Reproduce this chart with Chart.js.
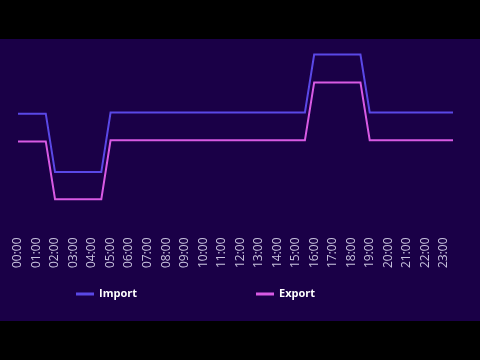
<!DOCTYPE html>
<html>
<head>
<meta charset="utf-8">
<script src="https://cdn.jsdelivr.net/npm/chart.js@4.4.1/dist/chart.umd.min.js"></script>
<style>
  html, body { margin: 0; padding: 0; background: #000; width: 480px; height: 360px; overflow: hidden; }
  #wrap { position: absolute; left: 0; top: 39px; width: 480px; height: 282px; background: #1a0047; }
  canvas { display: block; }
</style>
</head>
<body>
<div id="wrap"><canvas id="c" width="480" height="282"></canvas></div>
<script>
const timeLabels = [
  "00:00","00:30","01:00","01:30","02:00","02:30","03:00","03:30",
  "04:00","04:30","05:00","05:30","06:00","06:30","07:00","07:30",
  "08:00","08:30","09:00","09:30","10:00","10:30","11:00","11:30",
  "12:00","12:30","13:00","13:30","14:00","14:30","15:00","15:30",
  "16:00","16:30","17:00","17:30","18:00","18:30","19:00","19:30",
  "20:00","20:30","21:00","21:30","22:00","22:30","23:00","23:30"
];
const importValues = [
  20.7, 20.7, 20.7, 20.7, 10.6, 10.6, 10.6, 10.6,
  10.6, 10.6, 20.9, 20.9, 20.9, 20.9, 20.9, 20.9,
  20.9, 20.9, 20.9, 20.9, 20.9, 20.9, 20.9, 20.9,
  20.9, 20.9, 20.9, 20.9, 20.9, 20.9, 20.9, 20.9,
  30.9, 30.9, 30.9, 30.9, 30.9, 30.9, 20.9, 20.9,
  20.9, 20.9, 20.9, 20.9, 20.9, 20.9, 20.9, 20.9
];
const exportValues = [
  15.9, 15.9, 15.9, 15.9, 5.9, 5.9, 5.9, 5.9,
  5.9, 5.9, 16.1, 16.1, 16.1, 16.1, 16.1, 16.1,
  16.1, 16.1, 16.1, 16.1, 16.1, 16.1, 16.1, 16.1,
  16.1, 16.1, 16.1, 16.1, 16.1, 16.1, 16.1, 16.1,
  26.1, 26.1, 26.1, 26.1, 26.1, 26.1, 16.1, 16.1,
  16.1, 16.1, 16.1, 16.1, 16.1, 16.1, 16.1, 16.1
];
const seriesNames = ["Import", "Export"];
const seriesColors = ["#5a48e6", "#d85ae4"];

const customLegend = {
  id: 'customLegend',
  afterDraw(chart) {
    const ctx = chart.ctx;
    const xs = [76, 256];
    const y = 255;
    ctx.save();
    chart.data.datasets.forEach((ds, i) => {
      const x0 = xs[i];
      ctx.strokeStyle = ds.borderColor;
      ctx.lineWidth = 3;
      ctx.lineCap = 'butt';
      ctx.beginPath();
      ctx.moveTo(x0, y);
      ctx.lineTo(x0 + 18, y);
      ctx.stroke();
      ctx.fillStyle = '#ffffff';
      ctx.font = 'bold 11px "Open Sans"';
      ctx.textAlign = 'left';
      ctx.textBaseline = 'middle';
      ctx.fillText(ds.label, x0 + 23, y);
    });
    ctx.restore();
  }
};

new Chart(document.getElementById('c'), {
  type: 'line',
  data: {
    labels: timeLabels,
    datasets: [
      { label: seriesNames[0], data: importValues, borderColor: seriesColors[0], backgroundColor: seriesColors[0], borderWidth: 2, pointRadius: 0, tension: 0, fill: false },
      { label: seriesNames[1], data: exportValues, borderColor: seriesColors[1], backgroundColor: seriesColors[1], borderWidth: 2, pointRadius: 0, tension: 0, fill: false }
    ]
  },
  options: {
    responsive: false,
    animation: false,
    layout: { padding: { left: 18, right: 27, top: 0, bottom: 49 } },
    plugins: { legend: { display: false }, tooltip: { enabled: false } },
    scales: {
      x: {
        grid: { display: false, drawTicks: false },
        border: { display: false },
        ticks: {
          autoSkip: false,
          minRotation: 90,
          maxRotation: 90,
          padding: 4,
          color: '#c8c2de',
          font: { family: '"Open Sans"', size: 12 },
          callback: function (value, index) { return index % 2 === 0 ? this.getLabelForValue(value) : ''; }
        }
      },
      y: { display: false, min: 0, max: 33.6 }
    }
  },
  plugins: [customLegend]
});
</script>
</body>
</html>
